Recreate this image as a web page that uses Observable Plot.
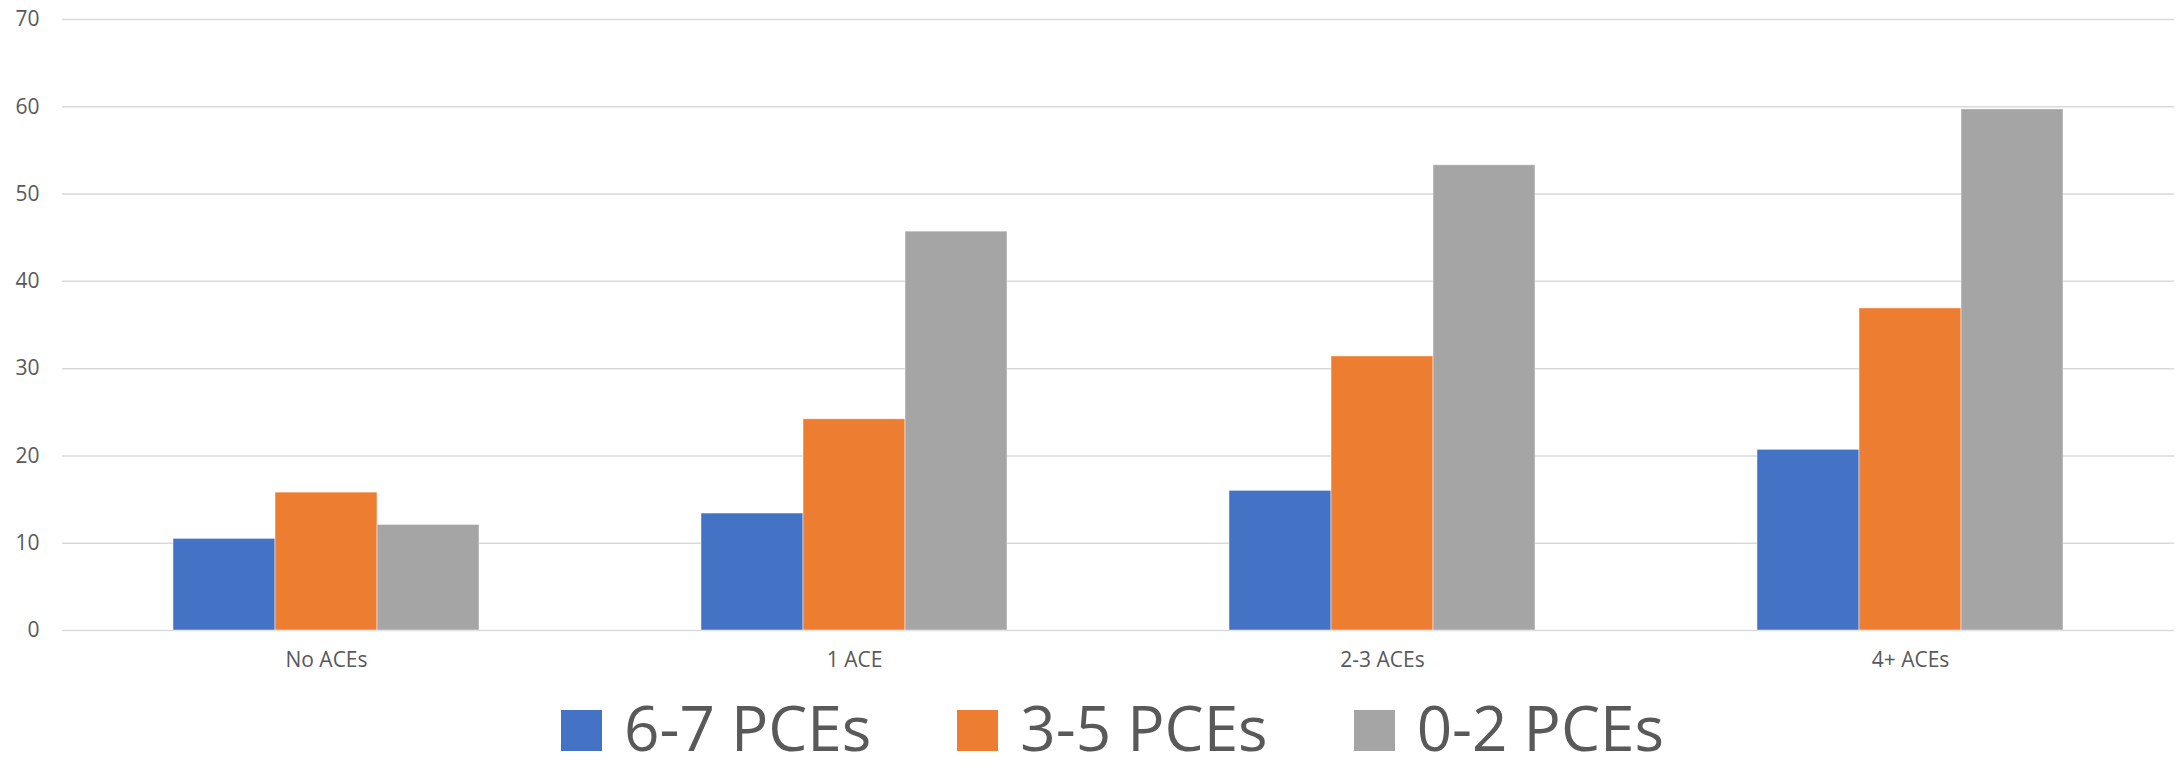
<!DOCTYPE html>
<html>
<head>
<meta charset="utf-8">
<script src="https://cdn.jsdelivr.net/npm/d3@7"></script>
<script src="https://cdn.jsdelivr.net/npm/@observablehq/plot@0.6"></script>
<style>
  html, body { margin: 0; padding: 0; background: #ffffff; }
  #wrap { position: relative; width: 2176px; height: 770px; background: #ffffff; overflow: hidden; }
  #legend {
    position: absolute; left: 55px; width: 2115px; top: 685px; height: 84px;
    display: flex; justify-content: center; align-items: flex-start;
    font-family: "Open Sans", sans-serif; color: #595959;
  }
  .item { display: flex; align-items: flex-start; margin: 0 43px; }
  .swatch { width: 41px; height: 41px; margin-right: 22px; margin-top: 25px; }
  .label { display: block; font-size: 62px; line-height: 1.362; white-space: nowrap; }
</style>
</head>
<body>
<div id="wrap"><div id="chart"></div><div id="legend"></div></div>
<script>
// Data
const categories = ["No ACEs", "1 ACE", "2-3 ACEs", "4+ ACEs"];
const seriesNames = ["6-7 PCEs", "3-5 PCEs", "0-2 PCEs"];
const pce67 = [10.5, 13.4, 16.0, 20.7];
const pce35 = [15.8, 24.2, 31.4, 36.9];
const pce02 = [12.1, 45.7, 53.3, 59.7];
const colors = ["#4472C4", "#ED7D31", "#A5A5A5"];
const yTicks = [0, 10, 20, 30, 40, 50, 60, 70];

const seriesValues = [pce67, pce35, pce02];
const rows = [];
categories.forEach((c, i) => {
  seriesNames.forEach((s, j) => {
    rows.push({category: c, series: s, value: seriesValues[j][i]});
  });
});

const chart = Plot.plot({
  width: 2176,
  height: 700,
  marginTop: 19,
  marginBottom: 70,
  marginLeft: 60,
  marginRight: 1,
  style: {fontFamily: "Open Sans, sans-serif", fontSize: "21px", color: "#595959", background: "#ffffff"},
  fx: {domain: categories, padding: 0, axis: "bottom", tickSize: 0, tickPadding: 22, label: null},
  x: {domain: seriesNames, axis: null, padding: 0, inset: 111},
  y: {domain: [0, 70], ticks: yTicks, tickSize: 0, tickPadding: 23, label: null, grid: false},
  color: {domain: seriesNames, range: colors},
  marks: [
    Plot.ruleY(yTicks, {stroke: "#D9D9D9", strokeWidth: 1.5}),
    Plot.barY(rows, {fx: "category", x: "series", y: "value", fill: "series", stroke: "#ffffff", strokeWidth: 0.8, strokeOpacity: 0.6})
  ]
});
document.getElementById("chart").appendChild(chart);

const legend = document.getElementById("legend");
seriesNames.forEach((s, j) => {
  const item = document.createElement("div");
  item.className = "item";
  const sw = document.createElement("div");
  sw.className = "swatch";
  sw.style.background = colors[j];
  const lb = document.createElement("span");
  lb.className = "label";
  lb.textContent = s;
  item.appendChild(sw);
  item.appendChild(lb);
  legend.appendChild(item);
});
</script>
</body>
</html>
